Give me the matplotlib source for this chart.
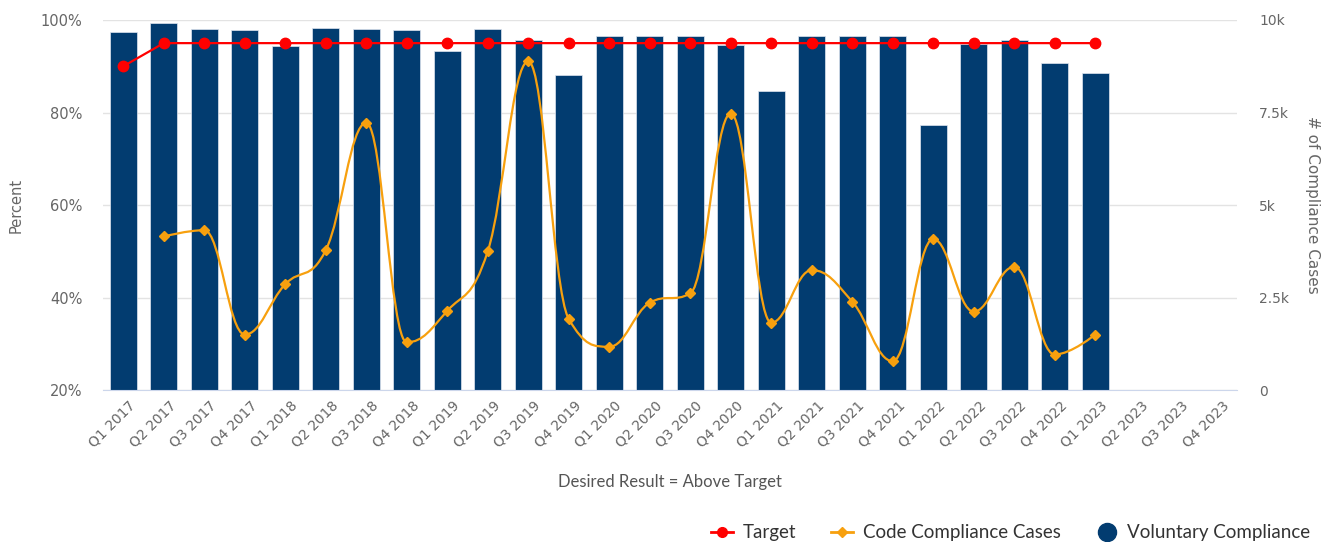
import numpy as np
import matplotlib
matplotlib.use('Agg')
import matplotlib.pyplot as plt
from matplotlib.path import Path
from matplotlib.patches import PathPatch
from matplotlib.lines import Line2D
from matplotlib.transforms import ScaledTranslation

quarters = ['Q%d %d' % (q, y) for y in range(2017, 2024) for q in range(1, 5)]

# Voluntary Compliance (%), Q1 2017 .. Q1 2023
voluntary = [97.5, 99.3, 98.0, 97.8, 94.4, 98.3, 98.0, 97.8, 93.2, 98.0,
             95.6, 88.2, 96.5, 96.5, 96.5, 94.6, 84.6, 96.5, 96.5, 96.5,
             77.4, 94.8, 95.7, 90.7, 88.5]

# Target (%)
target = [90] + [95] * 24

# Code Compliance Cases (count), no value for Q1 2017
cases = [np.nan, 4150, 4320, 1500, 2860, 3780, 7220, 1290, 2140, 3750,
         8880, 1920, 1170, 2360, 2610, 7470, 1820, 3240, 2390, 780,
         4080, 2120, 3330, 960, 1500]

bar_color = '#023c70'
red = '#ff0000'
orange = '#f7a00e'
grid_c = '#e3e3e3'
tick_c = '#666666'


def spline_path(xs, ys, smoothing=1.5):
    # highcharts-like spline control points
    n = len(xs)
    lc = [(xs[i], ys[i]) for i in range(n)]
    rc = [(xs[i], ys[i]) for i in range(n)]
    d = smoothing + 1
    for i in range(1, n - 1):
        lx, ly = xs[i - 1], ys[i - 1]
        nx, ny = xs[i + 1], ys[i + 1]
        px, py = xs[i], ys[i]
        lcx = (smoothing * px + lx) / d
        lcy = (smoothing * py + ly) / d
        rcx = (smoothing * px + nx) / d
        rcy = (smoothing * py + ny) / d
        if rcx != lcx:
            corr = ((rcy - lcy) * (rcx - px)) / (rcx - lcx) + py - rcy
            lcy += corr
            rcy += corr
        if lcy > ly and lcy > py:
            lcy = max(ly, py)
            rcy = 2 * py - lcy
        elif lcy < ly and lcy < py:
            lcy = min(ly, py)
            rcy = 2 * py - lcy
        if rcy > ny and rcy > py:
            rcy = max(ny, py)
            lcy = 2 * py - rcy
        elif rcy < ny and rcy < py:
            rcy = min(ny, py)
            lcy = 2 * py - rcy
        lc[i] = (lcx, lcy)
        rc[i] = (rcx, rcy)
    verts = [(xs[0], ys[0])]
    codes = [Path.MOVETO]
    for i in range(1, n):
        verts += [rc[i - 1], lc[i], (xs[i], ys[i])]
        codes += [Path.CURVE4] * 3
    return Path(verts, codes)


fig = plt.figure(figsize=(13.38, 5.42), dpi=100)
ax = fig.add_axes([0.077, 0.2804, 0.8475, 0.6827])
ax2 = ax.twinx()

x = np.arange(len(quarters))
xv = x[:len(voluntary)]

ax.bar(xv, voluntary, width=0.66, color=bar_color, edgecolor='#dfe5f0', linewidth=0.5, zorder=2)
ax.plot(xv, target, color=red, lw=1.6, marker='o', markersize=7.5, zorder=3)

cases = np.array(cases, dtype=float)
ok = ~np.isnan(cases)
p = spline_path(list(xv[ok]), list(cases[ok]))
ax2.add_patch(PathPatch(p, facecolor='none', edgecolor=orange, lw=1.6, zorder=3))
ax2.plot(xv[ok], cases[ok], ls='none', marker='D', markersize=5, color=orange, zorder=4)

ax.set_xlim(-0.5, len(quarters) - 0.5)
ax.set_ylim(20, 100)
ax2.set_ylim(0, 10000)

ax.set_yticks([20, 40, 60, 80, 100])
ax.set_yticklabels(['20%', '40%', '60%', '80%', '100%'])
ax2.set_yticks([0, 2500, 5000, 7500, 10000])
ax2.set_yticklabels(['0', '2.5k', '5k', '7.5k', '10k'])
ax.set_xticks(x)
ax.set_xticklabels(quarters, rotation=45, ha='right', rotation_mode='anchor')

ax.yaxis.grid(True, color=grid_c, lw=1, zorder=0)
ax.set_axisbelow(True)
for a in (ax, ax2):
    for s in ('top', 'left', 'right'):
        a.spines[s].set_visible(False)
    a.spines['bottom'].set_color('#ccd6eb')
ax2.spines['bottom'].set_visible(False)

ax.tick_params(axis='y', length=0, pad=15, labelsize=10.5, labelcolor=tick_c)
ax2.tick_params(axis='y', length=0, pad=16, labelsize=10, labelcolor=tick_c)
ax.tick_params(axis='x', length=0, pad=6, labelsize=10, labelcolor=tick_c)
for lab in ax.get_xticklabels():
    lab.set_transform(lab.get_transform() + ScaledTranslation(0.05, 0, fig.dpi_scale_trans))

ax.set_ylabel('Percent', fontsize=10.5, color=tick_c, labelpad=12)
ax2.set_ylabel('# of Compliance Cases', fontsize=11, color=tick_c, rotation=270, labelpad=22)
ax.set_xlabel('Desired Result = Above Target', fontsize=12, color='#555555',
              family='Lato', labelpad=17)

handles = [
    Line2D([], [], color=red, lw=2, marker='o', markersize=7),
    Line2D([], [], color=orange, lw=2, marker='D', markersize=5),
    Line2D([], [], color=bar_color, lw=0, marker='o', markersize=13),
]
fig.legend(handles, ['Target', 'Code Compliance Cases', 'Voluntary Compliance'],
           loc='lower right', bbox_to_anchor=(0.992, -0.03), ncol=3, frameon=False,
           prop={'family': 'Lato', 'size': 13.5}, labelcolor='#333333',
           handlelength=1.2, columnspacing=1.85, handletextpad=0.5)

fig.savefig('out.png', dpi=100)
